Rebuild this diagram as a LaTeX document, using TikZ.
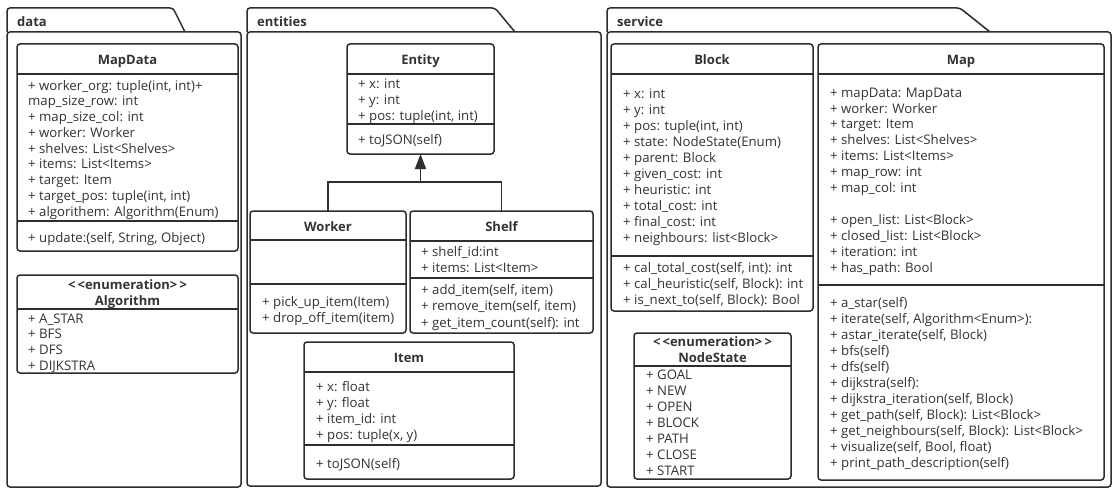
\documentclass[tikz,border=0pt]{standalone}
\usepackage{fontspec}
\setmainfont{Open Sans}
\usetikzlibrary{arrows.meta}
\definecolor{ln}{HTML}{2B2F33}
\definecolor{txt}{HTML}{333333}
\newcommand\atrfont{\fontsize{13.2}{15}\selectfont}
\newcommand\ttlfont{\fontsize{13}{15}\selectfont\bfseries}
\newcommand\umlrows[4]{%
  \foreach \t [count=\i from 0] in {#4}{\node[atr] at (#1,{#2+#3*\i}) {\t};}}
\newcommand\umlsep[2]{\draw[sepline] (#1.west |- 0,#2) -- (#1.east |- 0,#2);}
\begin{document}
\begin{tikzpicture}[x=1pt,y=-1pt,
  cls/.style={draw=ln, line width=1.5pt, rounded corners=3pt, anchor=north west, inner sep=0pt, outer sep=0pt},
  ttl/.style={font=\ttlfont, text=txt, inner sep=0pt, anchor=mid, yshift=-2.5pt},
  atr/.style={font=\atrfont, text=txt, anchor=mid west, inner sep=0pt, yshift=-2.5pt},
  sepline/.style={draw=ln, line width=1.5pt},
  pkg/.style={draw=ln, line width=1.5pt, rounded corners=3pt},
  pkgttl/.style={font=\ttlfont, text=txt, anchor=mid west, inner sep=0pt, yshift=-2.5pt},
  conn/.style={draw=ln, line width=1.5pt},
  gen/.style={conn, -{Triangle[width=11pt,length=15pt]}},
]
\useasboundingbox (0,0) rectangle (1117,495);
\fill[white] (0,0) rectangle (1117,495);

% ---------- packages ----------
\draw[pkg] (7,32) -- (7,8) -- (173,8) -- (185,32);
\draw[pkg] (7,32) rectangle (241,487);
\node[pkgttl] (pdata) at (17,21) {data};

\draw[pkg] (247,32) -- (247,8) -- (495,8) -- (515,32);
\draw[pkg] (247,32) rectangle (601,486);
\node[pkgttl] (pent) at (257,21) {entities};

\draw[pkg] (607,32) -- (607,8) -- (960,8) -- (990,32);
\draw[pkg] (607,32) rectangle (1111,487);
\node[pkgttl] (psrv) at (617,21) {service};

% ---------- data ----------
\node[cls, minimum width=221pt, minimum height=207pt] (mapdata) at (17,44) {};
\node[ttl] at (mapdata.north |- 0,59) {MapData};
\umlsep{mapdata}{74}
\umlsep{mapdata}{221}
\umlrows{28}{85}{15.75}{{+ worker\_org: tuple(int, int)+},{map\_size\_row: int},{+ map\_size\_col: int},{+ worker: Worker},{+ shelves: List<Shelves>},{+ items: List<Items>},{+ target: Item},{+ target\_pos: tuple(int, int)},{+ algorithem: Algorithm(Enum)}}
\umlrows{28}{237}{16}{{+ update:(self, String, Object)}}

\node[cls, minimum width=221pt, minimum height=98pt] (algorithm) at (17,275) {};
\node[ttl] at (algorithm.north |- 0,284) {<\,<enumeration>\,>};
\node[ttl] at (algorithm.north |- 0,300) {Algorithm};
\umlsep{algorithm}{309}
\umlrows{28}{318}{15.7}{{+ A\_STAR},{+ BFS},{+ DFS},{+ DIJKSTRA}}

% ---------- entities ----------
\node[cls, minimum width=147pt, minimum height=110pt] (entity) at (347,44) {};
\node[ttl] at (entity.north |- 0,59) {Entity};
\umlsep{entity}{74}
\umlsep{entity}{124}
\umlrows{358}{83}{16}{{+ x: int},{+ y: int},{+ pos: tuple(int, int)}}
\umlrows{358}{139}{16}{{+ toJSON(self)}}

\node[cls, minimum width=156pt, minimum height=122pt] (worker) at (250,211) {};
\node[ttl] at (worker.north |- 0,226) {Worker};
\umlsep{worker}{240}
\umlsep{worker}{284}
\umlrows{262}{301}{16}{{+ pick\_up\_item(Item)},{+ drop\_off\_item(item)}}

\node[cls, minimum width=183pt, minimum height=122pt] (shelf) at (410,211) {};
\node[ttl] at (shelf.north |- 0,226) {Shelf};
\umlsep{shelf}{241}
\umlsep{shelf}{278}
\umlrows{421}{251}{16}{{+ shelf\_id:int},{+ items: List<Item>}}
\umlrows{421}{289}{16.5}{{+ add\_item(self, item)},{+ remove\_item(self, item)},{+ get\_item\_count(self): int}}

\node[cls, minimum width=210pt, minimum height=137pt] (item) at (304,342) {};
\node[ttl] at (item.north |- 0,357) {Item};
\umlsep{item}{372}
\umlsep{item}{445}
\umlrows{316}{386}{16}{{+ x: float},{+ y: float},{+ item\_id: int},{+ pos: tuple(x, y)}}
\umlrows{316}{463}{16}{{+ toJSON(self)}}

\coordinate (j) at (entity.south |- 0,182);
\draw[conn] (worker.north) -- (worker.north |- j) -- (shelf.north |- j) -- (shelf.north);
\draw[gen] (j) -- (entity.south);

% ---------- service ----------
\node[cls, minimum width=202pt, minimum height=267pt] (block) at (611,44) {};
\node[ttl] at (block.north |- 0,59) {Block};
\umlsep{block}{74}
\umlsep{block}{256}
\umlrows{623}{93}{16}{{+ x: int},{+ y: int},{+ pos: tuple(int, int)},{+ state: NodeState(Enum)},{+ parent: Block},{+ given\_cost: int},{+ heuristic: int},{+ total\_cost: int},{+ final\_cost: int},{+ neighbours: list<Block>}}
\umlrows{623}{267}{16}{{+ cal\_total\_cost(self, int): int},{+ cal\_heuristic(self, Block): int},{+ is\_next\_to(self, Block): Bool}}

\node[cls, minimum width=157pt, minimum height=146pt] (nodestate) at (634,333) {};
\node[ttl] at (nodestate.north |- 0,341) {<\,<enumeration>\,>};
\node[ttl] at (nodestate.north |- 0,357) {NodeState};
\umlsep{nodestate}{366}
\umlrows{646}{374}{16}{{+ GOAL},{+ NEW},{+ OPEN},{+ BLOCK},{+ PATH},{+ CLOSE},{+ START}}

\node[cls, minimum width=286pt, minimum height=436pt] (map) at (818,44) {};
\node[ttl] at (map.north |- 0,59) {Map};
\umlsep{map}{74}
\umlsep{map}{285}
\umlrows{830}{92}{15.9}{{+ mapData: MapData},{+ worker: Worker},{+ target: Item},{+ shelves: List<Shelves>},{+ items: List<Items>},{+ map\_row: int},{+ map\_col: int}}
\umlrows{830}{219.5}{15.9}{{+ open\_list: List<Block>},{+ closed\_list: List<Block>},{+ iteration: int},{+ has\_path: Bool}}
\umlrows{830}{302}{16}{{+ a\_star(self)},{+ iterate(self, Algorithm<Enum>):},{+ astar\_iterate(self, Block)},{+ bfs(self)},{+ dfs(self)},{+ dijkstra(self):},{+ dijkstra\_iteration(self, Block)},{+ get\_path(self, Block): List<Block>},{+ get\_neighbours(self, Block): List<Block>},{+ visualize(self, Bool, float)},{+ print\_path\_description(self)}}
\end{tikzpicture}
\end{document}
